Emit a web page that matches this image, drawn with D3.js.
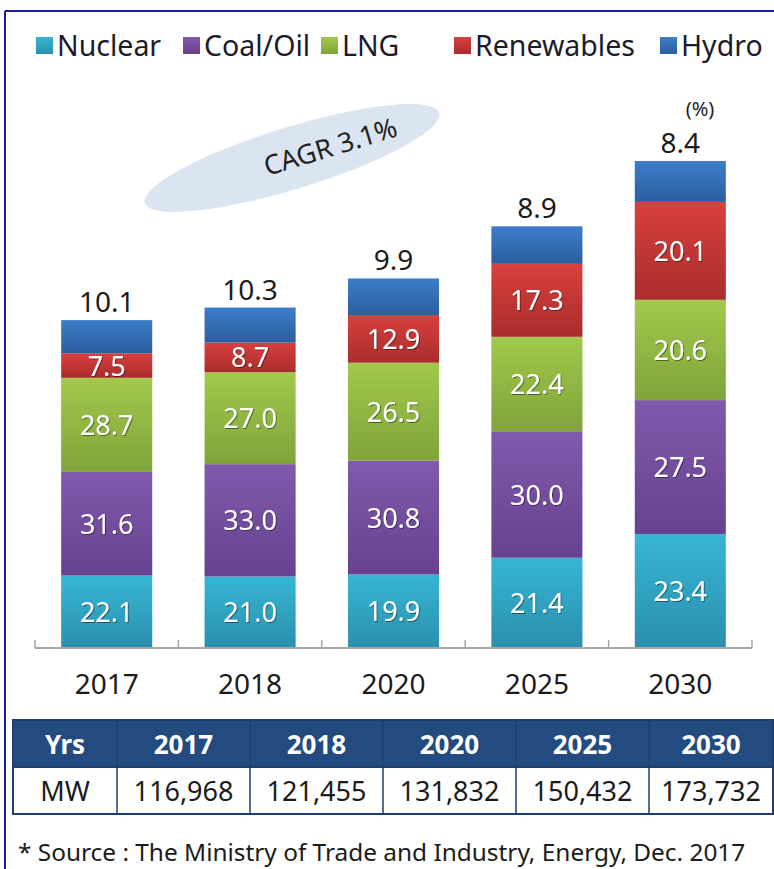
<!DOCTYPE html>
<html>
<head>
<meta charset="utf-8">
<script src="https://cdn.jsdelivr.net/npm/d3@7"></script>
<style>
  body { margin: 0; background: #fff; }
  text { font-family: "Noto Sans", "Open Sans", sans-serif; }
</style>
</head>
<body>
<div id="GraphHolder"></div>
<script>
// chart data
var years = ["2017", "2018", "2020", "2025", "2030"];
var capacityMW = [116968, 121455, 131832, 150432, 173732];
var sources = ["Nuclear", "Coal/Oil", "LNG", "Renewables", "Hydro"];
var nuclear = [22.1, 21.0, 19.9, 21.4, 23.4];
var coalOil = [31.6, 33.0, 30.8, 30.0, 27.5];
var lng = [28.7, 27.0, 26.5, 22.4, 20.6];
var renewables = [7.5, 8.7, 12.9, 17.3, 20.1];
var hydro = [10.1, 10.3, 9.9, 8.9, 8.4];
var cagrLabel = "CAGR 3.1%";
var sourceNote = "* Source : The Ministry of Trade and Industry, Energy, Dec. 2017";

var shares = [nuclear, coalOil, lng, renewables, hydro];
var colors = [
  ["#36b6d4", "#2a8fad"],
  ["#8159ad", "#67428f"],
  ["#a2c84c", "#7fa43a"],
  ["#d8403d", "#a92d2c"],
  ["#3d7dca", "#2b5e9e"]
];

var W = 774, H = 869;
var svg = d3.select("#GraphHolder").append("svg")
    .attr("width", W)
    .attr("height", H);

// gradients for the bar segments
var defs = svg.append("defs");
colors.forEach(function(c, i) {
  var g = defs.append("linearGradient")
      .attr("id", "grad" + i)
      .attr("x1", 0).attr("y1", 0).attr("x2", 0).attr("y2", 1);
  g.append("stop").attr("offset", "0%").attr("stop-color", c[0]);
  g.append("stop").attr("offset", "100%").attr("stop-color", c[1]);
});
var shadow = defs.append("filter").attr("id", "shadow");
shadow.append("feDropShadow")
    .attr("dx", 1).attr("dy", 1).attr("stdDeviation", 0.6)
    .attr("flood-color", "#000").attr("flood-opacity", 0.45);

// frame lines (top and left)
svg.append("line")
    .attr("x1", 5).attr("y1", 11).attr("x2", W).attr("y2", 11)
    .style("stroke", "#1c1ca8").style("stroke-width", 2);
svg.append("line")
    .attr("x1", 5).attr("y1", 11).attr("x2", 5).attr("y2", H)
    .style("stroke", "#1c1ca8").style("stroke-width", 2);

// legend
var legendX = [36, 183, 321, 454, 660];
var legend = svg.append("g").attr("class", "legend");
sources.forEach(function(s, i) {
  legend.append("rect")
      .attr("x", legendX[i]).attr("y", 37)
      .attr("width", 17).attr("height", 17)
      .style("fill", "url(#grad" + i + ")");
  legend.append("text")
      .attr("x", legendX[i] + 21).attr("y", 56)
      .style("font-size", "28.5px")
      .style("fill", "#1b1b2b")
      .text(s);
});

// scales
var plotLeft = 35, plotRight = 752, baseY = 648;
var x = d3.scaleBand()
    .domain(years)
    .range([plotLeft, plotRight])
    .paddingInner(0.365)
    .paddingOuter(0.1825);
var y = d3.scaleLinear()
    .domain([0, d3.max(capacityMW)])
    .range([baseY, 161]);

// CAGR ellipse
var cagr = svg.append("g").attr("transform", "translate(292,158) rotate(-17)");
cagr.append("ellipse")
    .attr("rx", 154).attr("ry", 31)
    .style("fill", "#dbe5f1");
cagr.append("text")
    .attr("x", 40).attr("y", 10)
    .style("text-anchor", "middle")
    .style("font-size", "27px")
    .style("fill", "#222")
    .text(cagrLabel);

// stack data
var stackData = years.map(function(yr, i) {
  var acc = 0;
  return shares.map(function(arr, k) {
    var v = capacityMW[i] * arr[i] / 100;
    var seg = {year: yr, k: k, pct: arr[i], y0: acc, y1: acc + v};
    acc += v;
    return seg;
  });
});

var bars = svg.selectAll(".barGroup")
    .data(stackData)
    .enter().append("g")
    .attr("class", "barGroup");

bars.selectAll(".bar")
    .data(function(d) { return d; })
    .enter().append("rect")
    .attr("class", "bar")
    .attr("x", function(d) { return x(d.year); })
    .attr("width", x.bandwidth())
    .attr("y", function(d) { return y(d.y1); })
    .attr("height", function(d) { return y(d.y0) - y(d.y1); })
    .style("fill", function(d) { return "url(#grad" + d.k + ")"; });

// labels inside segments (all but hydro)
bars.selectAll(".segLabel")
    .data(function(d) { return d.slice(0, 4); })
    .enter().append("text")
    .attr("class", "segLabel")
    .attr("x", function(d) { return x(d.year) + x.bandwidth() / 2; })
    .attr("y", function(d) { return (y(d.y0) + y(d.y1)) / 2 + 10; })
    .style("text-anchor", "middle")
    .style("font-size", "27px")
    .style("fill", "#fff")
    .attr("filter", "url(#shadow)")
    .text(function(d) { return d.pct.toFixed(1); });

// hydro share above each bar
bars.append("text")
    .attr("x", function(d) { return x(d[4].year) + x.bandwidth() / 2; })
    .attr("y", function(d) { return y(d[4].y1) - 8; })
    .style("text-anchor", "middle")
    .style("font-size", "28px")
    .style("fill", "#1b1b1b")
    .text(function(d) { return d[4].pct.toFixed(1); });

svg.append("text")
    .attr("x", 700).attr("y", 116)
    .style("text-anchor", "middle")
    .style("font-size", "20px")
    .style("fill", "#222")
    .text("(%)");

// x axis: baseline with boundary ticks, year labels below
var step = x.step();
var bounds = years.map(function(d) { return x(d) - step * x.paddingInner() / 2; });
bounds.push(plotRight);
var axis = svg.append("g").attr("class", "xaxis");
axis.append("line")
    .attr("x1", plotLeft).attr("x2", plotRight)
    .attr("y1", baseY).attr("y2", baseY)
    .style("stroke", "#a6a6a6").style("stroke-width", 2);
axis.selectAll(".tick")
    .data(bounds)
    .enter().append("line")
    .attr("class", "tick")
    .attr("x1", function(d) { return d; }).attr("x2", function(d) { return d; })
    .attr("y1", baseY).attr("y2", baseY - 8)
    .style("stroke", "#a6a6a6").style("stroke-width", 1.5);
axis.selectAll(".yearLabel")
    .data(years)
    .enter().append("text")
    .attr("class", "yearLabel")
    .attr("x", function(d) { return x(d) + x.bandwidth() / 2; })
    .attr("y", 694)
    .style("text-anchor", "middle")
    .style("font-size", "28px")
    .style("fill", "#1b1b1b")
    .text(function(d) { return d; });

// capacity table
var tableTop = 720, rowH = 47, tableLeft = 13, tableRight = 773;
var colX = d3.scaleBand()
    .domain(years)
    .range([117, 782]);
var headers = ["Yrs"].concat(years);
var col = function(d) { return d === "Yrs" ? tableLeft : colX(d); };
var colW = function(d) {
  if (d === "Yrs") return 117 - tableLeft;
  return Math.min(colX.bandwidth(), tableRight - colX(d));
};
var table = svg.append("g").attr("class", "table");
var rowVals = ["MW"].concat(capacityMW.map(d3.format(",")));

table.append("rect")
    .attr("x", tableLeft).attr("y", tableTop)
    .attr("width", tableRight - tableLeft).attr("height", rowH)
    .style("fill", "#234b7f")
    .style("stroke", "#1f3f6e").style("stroke-width", 2);
table.append("rect")
    .attr("x", tableLeft).attr("y", tableTop + rowH)
    .attr("width", tableRight - tableLeft).attr("height", rowH)
    .style("fill", "#fff")
    .style("stroke", "#1f3f6e").style("stroke-width", 2);
table.selectAll(".colLine")
    .data(years)
    .enter().append("line")
    .attr("x1", col).attr("x2", col)
    .attr("y1", tableTop).attr("y2", tableTop + 2 * rowH)
    .style("stroke", "#1f3f6e").style("stroke-width", 1.5);
table.selectAll(".hdr")
    .data(headers)
    .enter().append("text")
    .attr("x", function(d) { return col(d) + colW(d) / 2; })
    .attr("y", tableTop + 34)
    .style("text-anchor", "middle")
    .style("font-size", "26px")
    .style("font-weight", "bold")
    .style("fill", "#fff")
    .text(function(d) { return d; });
table.selectAll(".val")
    .data(rowVals)
    .enter().append("text")
    .attr("x", function(d, i) { return col(headers[i]) + colW(headers[i]) / 2; })
    .attr("y", tableTop + rowH + 34)
    .style("text-anchor", "middle")
    .style("font-size", "27px")
    .style("fill", "#1b1b1b")
    .text(function(d) { return d; });

// source note
svg.append("text")
    .attr("x", 18).attr("y", 861)
    .style("font-size", "24.4px")
    .style("fill", "#1b1b1b")
    .text(sourceNote);
</script>
</body>
</html>
